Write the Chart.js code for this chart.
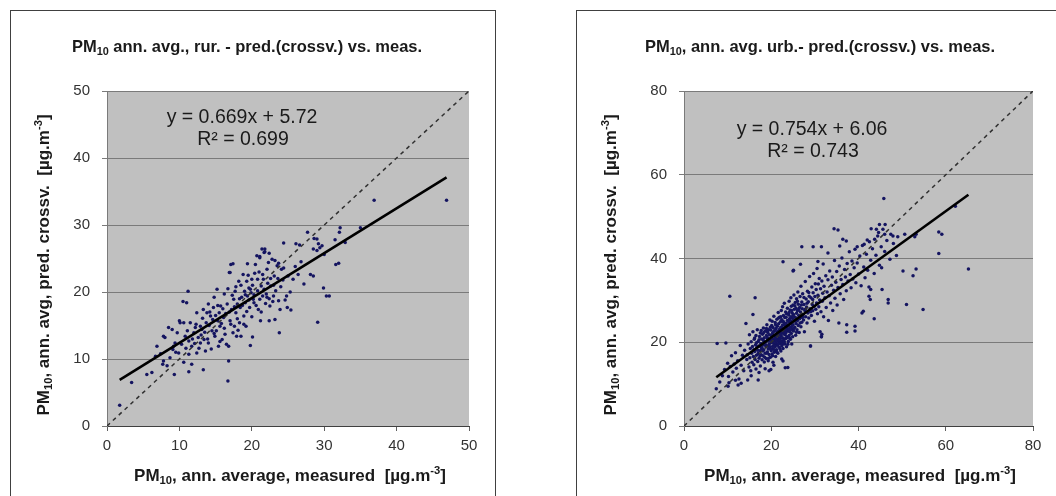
<!DOCTYPE html>
<html>
<head>
<meta charset="utf-8">
<script src="https://cdn.jsdelivr.net/npm/chart.js@4.4.1/dist/chart.umd.min.js"></script>
<style>
  body { margin: 0; background: #fff; overflow: hidden; width: 1056px; height: 496px; position: relative; }
  .panel { position: absolute; border: 1px solid #404040; box-sizing: border-box; }
  canvas { position: absolute; }
</style>
</head>
<body>
<div class="panel" style="left:10px;top:10px;width:486px;height:520px"></div>
<div class="panel" style="left:576px;top:10px;width:520px;height:520px"></div>
<canvas id="rural" width="483" height="485" style="left:11px;top:11px"></canvas>
<canvas id="urban" width="479" height="485" style="left:577px;top:11px"></canvas>
<script>
// rural stations: [measured, predicted (crossv.)]
const ruralPoints = [
  [1.75,3.1],[3.4,6.5],[5.5,7.7],[6.2,8.0],[6.7,10.4],[6.9,11.9],[7.4,10.8],[7.7,9.2],[7.8,9.7],[7.8,13.4],
  [8.0,13.2],[8.3,9.0],[8.5,14.7],[8.7,10.2],[9.0,14.4],[9.2,11.9],[9.1,11.4],[9.3,7.7],[9.4,12.4],[9.7,13.9],
  [9.9,10.9],[10.0,15.7],[10.1,15.4],[10.5,18.6],[10.6,15.4],[10.6,9.5],[10.8,13.4],[11.0,18.4],[11.2,20.1],[11.3,12.7],
  [11.3,10.7],[11.3,8.1],[11.5,15.4],[11.7,11.9],[11.7,9.2],[12.0,13.9],[12.2,14.7],[12.4,16.9],[12.4,10.9],[12.6,13.2],
  [12.9,14.9],[12.9,12.4],[13.1,14.4],[13.3,8.4],[13.3,17.4],[13.4,12.9],[13.7,15.4],[13.8,16.9],[14.0,18.2],[14.0,12.4],
  [14.3,16.4],[14.5,14.2],[14.7,17.7],[14.8,19.2],[14.9,13.4],[15.2,20.4],[15.3,15.7],[15.4,11.9],[15.5,16.9],[15.6,14.9],
  [15.7,17.9],[15.9,12.9],[16.1,16.2],[16.2,19.7],[16.3,13.7],[16.6,18.2],[16.7,6.7],[16.8,9.7],[16.8,11.9],[16.9,22.9],
  [17.0,15.7],[17.1,24.1],[17.2,17.4],[17.5,18.9],[17.6,14.9],[17.7,20.1],[17.8,16.9],[17.9,13.4],[18.0,18.2],[18.2,21.6],
  [18.3,15.4],[18.4,17.7],[18.5,13.4],[18.6,19.2],[18.8,22.6],[18.9,16.4],[19.0,20.1],[19.1,18.4],[19.2,14.9],[19.3,21.6],
  [19.4,19.4],[19.6,20.6],[19.7,17.7],[19.8,12.0],[19.9,19.9],[20.0,21.9],[20.1,13.3],[20.2,18.9],[20.3,18.4],[20.5,24.1],
  [20.7,25.4],[20.8,21.9],[20.9,17.4],[21.1,25.1],[21.2,15.7],[21.3,20.9],[21.4,26.4],[21.5,19.4],[21.6,21.9],[21.8,26.0],
  [22.0,19.7],[22.1,19.2],[22.3,24.4],[22.4,15.7],[22.5,17.9],[22.6,20.9],[22.8,24.9],[23.0,19.4],[23.1,22.4],[23.2,15.9],
  [23.5,23.9],[23.7,18.7],[23.8,13.9],[23.9,17.4],[24.1,23.4],[24.4,23.6],[24.8,19.4],[24.9,17.7],[25.4,17.3],[25.7,21.9],
  [26.4,22.6],[28.1,22.6],[28.5,22.4],[28.5,26.4],[29.1,15.5],[29.4,26.6],[29.9,20.6],[30.3,19.4],[31.6,24.1],
  [46.9,33.7],[36.9,33.7],[35.0,29.6],[32.2,29.6],[32.1,28.9],[31.5,27.8],[32.9,27.4],[27.7,28.9],[28.6,28.0],[29.2,27.2],
  [24.4,27.3],[26.1,27.2],[21.8,26.4],[21.7,25.9],[22.4,25.8],[21.1,25.3],[17.4,24.2],[19.4,24.2],[17.0,22.9],[23.2,24.7],
  [23.7,24.3],[29.0,27.9],[29.7,26.9],[29.0,26.2],[30.0,25.6],[32.0,24.3],[30.7,19.4],[26.6,27.0],
  [9.5,11.0],[10.3,12.2],[10.9,11.6],[11.1,14.2],[11.8,13.0],[12.1,12.3],[12.3,15.2],[12.7,11.6],[13.0,13.6],[13.2,16.1],
  [13.5,14.0],[13.6,11.2],[13.9,13.0],[14.1,15.0],[14.2,17.0],[14.4,11.5],[14.6,15.9],[14.8,13.8],[15.0,16.5],[15.1,14.2],
  [15.3,18.0],[15.6,12.6],[15.8,15.3],[16.0,17.5],[16.2,14.6],[16.4,16.8],[16.5,12.2],[16.7,20.5],[16.9,17.0],[17.1,15.2],
  [17.3,19.5],[17.4,13.9],[17.6,17.8],[17.8,20.8],[18.0,16.0],[18.1,14.3],[18.3,19.0],[18.5,21.0],[18.7,18.0],[18.9,15.2],
  [19.1,19.6],[19.3,17.1],[19.5,22.5],[19.6,18.8],[19.8,20.4],[20.0,16.3],[20.1,21.0],[20.3,19.6],[20.4,22.8],[20.6,18.0],
  [20.8,20.2],[21.0,23.0],[21.1,18.9],[21.3,17.0],[21.5,22.6],[21.7,20.4],[21.9,18.3],[22.1,23.4],[22.2,21.3],[22.4,19.0],
  [22.6,22.0],[22.9,18.6],[23.0,21.0],[23.3,20.2],[23.6,22.0],[24.0,20.8],[24.3,21.8],[24.6,18.8],[25.0,22.4],[25.3,20.0],
  [26.0,23.8],[26.8,24.5],[27.2,21.2]
];

// urban stations: [measured, predicted (crossv.)]
const urbanPoints = [
  [65.2,37.5],[58.4,41.2],[53.2,37.5],[52.5,35.9],[54.8,27.8],[51.0,29.0],[50.2,37.0],[48.7,40.7],[46.8,29.4],[46.8,30.2],
  [45.4,32.6],[45.3,37.8],[43.6,25.6],[41.1,27.4],[40.8,27.0],[42.7,30.2],[42.4,31.0],[42.4,33.2],[42.8,32.6],[39.2,23.8],
  [39.2,22.7],[37.3,22.4],[37.3,24.2],[31.6,21.9],[31.5,21.3],[29.0,19.1],[23.2,13.9],[22.7,15.5],[17.0,11.0],[19.9,13.5],
  [10.5,31.0],[16.3,30.6],[15.8,26.6],[7.4,8.9],[7.6,19.7],[10.1,9.5],[10.3,10.3],[25.0,37.0],[25.1,37.2],[22.7,39.2],
  [26.7,38.6],[30.7,39.3],[33.0,41.3],
  [45.8,54.3],[62.2,52.5],[58.4,46.3],[59.1,45.8],[53.2,45.8],[52.9,45.2],[50.6,45.8],[49.0,45.2],[47.9,45.4],[47.4,45.8],
  [46.0,45.8],[44.6,46.2],[44.1,47.0],[44.8,48.1],[46.1,48.1],[42.9,47.1],[43.7,44.6],[42.0,44.4],[41.3,43.4],[39.7,42.8],
  [36.4,44.6],[37.2,44.2],[35.7,43.0],[34.4,47.1],[35.3,46.8],[31.5,42.8],[29.6,42.8],[27.0,42.8],
  [8.2,10.5],[8.8,12.0],[9.3,13.5],[9.6,19.8],[10.0,15.0],[10.2,11.8],[10.6,14.2],[10.9,16.8],[11.2,12.9],[11.5,14.8],
  [11.8,17.5],[12.0,13.8],[12.3,15.6],[12.6,11.2],[12.9,19.2],[13.1,14.5],[13.4,16.9],[13.7,13.2],[13.9,18.1],[14.2,24.5],
  [14.4,15.9],
  [14.5,17.0],[14.7,19.6],[14.9,14.1],[15.0,21.8],[15.1,16.3],[15.2,18.5],[15.3,13.2],[15.4,20.1],[15.5,17.4],[15.6,15.2],
  [15.7,19.0],[15.8,22.5],[15.9,16.6],[16.0,18.2],[16.0,14.6],[16.1,20.7],[16.2,17.8],[16.3,15.9],[16.4,19.4],[16.5,21.6],
  [16.5,13.6],[16.6,16.9],[16.7,18.8],[16.8,23.0],[16.9,15.4],[17.0,20.2],[17.0,17.3],[17.1,19.1],[17.2,16.2],[17.3,21.4],
  [17.4,18.0],[17.5,14.3],[17.5,22.2],[17.6,19.7],[17.7,17.0],[17.8,20.8],[17.9,15.8],[17.9,18.6],
  [18.0,21.9],[18.0,19.3],[18.1,16.8],[18.2,20.4],[18.2,23.4],[18.3,18.2],[18.4,15.3],[18.4,21.1],[18.5,19.8],[18.6,17.4],
  [18.6,22.7],[18.7,20.0],[18.8,18.9],[18.8,16.1],[18.9,21.6],[19.0,24.2],[19.0,19.1],[19.1,17.7],[19.1,20.9],[19.2,22.3],
  [19.3,18.4],[19.3,15.6],[19.4,20.3],[19.4,23.0],[19.5,19.5],[19.5,17.1],[19.6,21.8],[19.7,25.3],[19.7,18.7],[19.8,20.6],
  [19.8,16.4],[19.9,22.9],[20.0,19.9],[20.0,18.0],[20.1,21.3],[20.1,24.0],[20.2,17.2],[20.2,20.1],[20.3,22.2],[20.3,19.0],
  [20.4,15.2],[20.4,23.5],[20.5,20.8],[20.5,18.4],[20.6,26.2],[20.6,21.7],[20.7,19.5],[20.7,17.6],[20.8,22.8],[20.8,20.4],
  [20.9,24.7],[20.9,18.9],[21.0,21.2],[21.0,16.6],[21.1,23.3],[21.1,19.9],[21.2,22.0],[21.2,18.2],[21.3,25.5],[21.3,20.7],
  [21.4,23.8],[21.4,19.3],[21.5,21.6],[21.5,17.4],[21.6,27.1],[21.6,22.6],[21.7,20.2],[21.7,24.4],[21.8,18.8],[21.8,21.1],
  [21.9,23.1],[21.9,26.0],
  [22.0,19.7],[22.0,22.5],[22.1,24.9],[22.1,20.9],[22.2,17.9],[22.2,23.6],[22.3,21.5],[22.3,27.6],[22.4,19.1],[22.4,25.4],
  [22.5,22.2],[22.5,20.3],[22.6,24.1],[22.6,28.5],[22.7,21.0],[22.7,18.5],[22.8,23.0],[22.8,26.4],[22.9,20.6],[22.9,24.8],
  [23.0,22.6],[23.0,29.3],[23.1,19.6],[23.1,25.9],[23.2,21.8],[23.2,23.9],[23.3,27.2],[23.3,20.9],[23.4,24.5],[23.4,22.3],
  [23.5,18.9],[23.5,26.8],[23.6,23.4],[23.6,21.3],[23.7,28.1],[23.7,25.2],[23.8,22.8],[23.8,14.0],[23.9,24.0],[23.9,20.2],
  [24.0,26.5],[24.0,23.1],[24.1,29.8],[24.1,21.6],[24.2,25.6],[24.2,22.5],[24.3,27.7],[24.3,24.6],[24.4,20.7],[24.4,23.6],
  [24.5,26.1],[24.5,30.6],[24.6,22.1],[24.6,28.6],[24.7,24.9],[24.7,19.6],[24.8,27.0],[24.8,23.2],[24.9,25.7],[24.9,21.3],
  [25.0,28.9],[25.0,24.2],[25.1,26.6],[25.1,22.7],[25.2,31.3],[25.3,25.1],[25.3,27.9],[25.4,23.6],[25.5,29.5],[25.5,26.0],
  [25.6,21.7],[25.7,24.5],[25.7,28.1],[25.8,26.9],[25.8,30.4],[25.9,23.0],[26.0,27.5],[26.0,25.2],[26.1,32.0],[26.2,24.0],
  [26.2,29.1],[26.3,26.4],[26.4,22.3],[26.5,28.3],[26.5,25.6],[26.6,30.9],[26.7,27.2],[26.8,23.7],[26.8,33.4],[26.9,26.0],
  [27.0,29.6],[27.0,24.8],[27.1,28.0],[27.2,31.6],[27.3,26.6],[27.4,25.3],[27.5,29.0],[27.6,22.5],[27.7,27.6],[27.8,34.5],
  [27.9,26.1],[28.0,30.3],
  [28.1,28.4],[28.2,24.6],[28.3,32.2],[28.4,27.0],[28.5,29.7],[28.6,25.8],[28.7,31.0],[28.8,35.7],[28.9,28.0],[29.0,19.1],
  [29.1,30.6],[29.2,26.4],[29.3,33.2],[29.4,29.0],[29.5,27.5],[29.6,31.8],[29.7,36.4],[29.8,28.6],[29.9,25.0],[30.0,30.9],
  [30.1,34.0],[30.2,27.9],[30.3,32.6],[30.4,29.4],[30.5,37.6],[30.6,26.8],[30.7,31.2],[30.8,33.9],[30.9,28.5],[31.0,35.2],
  [31.1,30.1],[31.2,22.5],[31.3,32.8],[31.4,27.3],[31.5,21.3],[31.6,34.6],[31.7,29.8],[31.8,31.7],[31.9,38.7],[32.0,26.1],
  [32.1,33.4],[32.3,30.6],[32.5,35.9],[32.6,28.3],[32.8,32.0],[33.0,34.9],[33.1,25.2],[33.3,31.1],[33.4,37.0],[33.6,29.4],
  [33.8,33.6],[34.0,35.6],[34.1,27.6],[34.3,32.4],[34.5,39.5],[34.6,30.5],[34.8,34.3],[35.0,36.9],[35.1,28.9],[35.3,33.1],
  [35.5,24.6],[35.6,38.2],[35.8,31.6],[36.0,35.0],
  [36.2,40.1],[36.4,33.8],[36.6,30.2],[36.8,37.4],[37.0,35.6],[37.2,32.3],[37.4,38.8],[37.6,34.6],[37.9,41.6],[38.1,36.2],
  [38.3,33.0],[38.5,39.4],[38.7,35.1],[39.0,37.8],[39.2,42.2],[39.4,34.2],[39.7,38.9],[40.0,36.3],[40.3,40.6],[40.6,33.5],
  [40.9,43.1],[41.2,38.0],[41.5,35.4],[41.8,41.0],[42.1,37.2],[42.5,44.0],[42.8,39.6],[43.2,42.3],[43.6,36.4],[44.0,40.8],
  [44.4,45.4],[44.8,38.4],[45.2,42.8],[45.6,47.0],[46.0,41.7],[46.5,44.3],[47.2,39.8],[48.0,43.6],
  [17.2,12.8],[18.6,13.7],[20.6,14.5],[22.4,16.0],[19.5,13.2],[14.6,11.0],[13.1,10.2],[11.8,10.9],[12.4,9.8],[15.4,12.0],
  [16.2,21.0],[16.6,19.9],[16.9,18.1],[17.2,20.6],[17.4,16.7],[17.7,22.8],[17.8,18.4],[18.1,17.9],[18.3,22.3],[18.5,16.4],
  [18.7,19.3],[18.9,23.3],[19.0,17.4],[19.2,21.1],[19.4,16.2],[19.6,19.0],[19.8,23.6],[19.9,18.3],[20.0,21.7],[20.2,25.0],
  [20.3,16.8],[20.5,22.5],[20.6,19.2],[20.8,17.9],[20.9,21.4],[21.0,24.2],[21.2,20.5],[21.3,17.7],[21.4,22.4],[21.6,19.6],
  [21.7,25.8],[21.8,22.0],[22.0,18.4],[22.1,21.8],[22.2,26.1],[22.3,20.0],[22.5,23.5],[22.6,19.5],[22.7,25.0],[22.9,22.0],
  [23.0,20.1],[23.1,24.4],[23.3,22.9],[23.4,26.0],[23.5,21.0],[23.7,23.8],[23.8,19.5],[24.0,24.9],[24.1,27.1],[24.2,21.0],
  [24.4,25.1],[24.5,22.9],[24.7,27.6],[24.8,24.0],[25.0,26.3],[25.2,23.3],[25.4,28.7],[25.6,25.4],[25.8,22.4],[26.0,29.8],
  [26.3,27.8],[26.6,24.6],[26.9,28.9],[27.2,26.0],[27.5,30.7],[27.8,27.9],[28.2,29.3],[28.6,31.9],[29.0,27.3],[29.5,30.2],
  [19.1,22.6],[19.6,20.6],[20.4,20.0],[21.1,21.8],[21.9,20.6],[22.4,22.9],[23.2,22.4],[20.9,23.0],[18.4,19.5],[17.6,18.9]
];

// linear trend lines (Excel) and their x extent
const ruralTrend = { slope: 0.669, intercept: 5.72, xFrom: 1.75, xTo: 46.9 };
const urbanTrend = { slope: 0.754, intercept: 6.06, xFrom: 7.4, xTo: 65.2 };
const ruralAxis = { max: 50, step: 10 };
const urbanAxis = { max: 80, step: 20 };

const FONT = '"Liberation Sans", Arial, sans-serif';
const PM = ['PM', 'sub', '10'];

function richParts(list) {
    // list: strings, with 'sub' / 'sup' marker before a small piece
    const out = [];
    for (let i = 0; i < list.length; i++) {
        if (list[i] === 'sub' || list[i] === 'sup') { out.push({ t: list[i + 1], k: list[i] }); i++; }
        else out.push({ t: list[i], k: '' });
    }
    return out;
}

function drawRich(ctx, list, x, y, size, bold, rotate) {
    const parts = richParts(list);
    const font = s => `${bold ? 'bold ' : ''}${s}px ${FONT}`;
    let w = 0;
    parts.forEach(p => { ctx.font = font(p.k ? size * 0.66 : size); p.w = ctx.measureText(p.t).width; w += p.w; });
    ctx.save();
    ctx.translate(x, y);
    if (rotate) ctx.rotate(-Math.PI / 2);
    ctx.textBaseline = 'middle';
    ctx.textAlign = 'left';
    ctx.fillStyle = '#1a1a1a';
    let cx = -w / 2;
    parts.forEach(p => {
        ctx.font = font(p.k ? size * 0.66 : size);
        const dy = p.k === 'sub' ? size * 0.28 : p.k === 'sup' ? -size * 0.32 : 0;
        ctx.fillText(p.t, cx, dy);
        cx += p.w;
    });
    ctx.restore();
}

function makeChart(id, points, trend, axis, texts, pad) {
    const trendLine = [
        { x: trend.xFrom, y: trend.slope * trend.xFrom + trend.intercept },
        { x: trend.xTo, y: trend.slope * trend.xTo + trend.intercept }
    ];
    const plotBg = {
        id: 'plotBg',
        beforeDraw(chart) {
            const a = chart.chartArea, c = chart.ctx;
            c.save(); c.fillStyle = '#c0c0c0';
            c.fillRect(a.left, a.top, a.right - a.left, a.bottom - a.top);
            c.restore();
        }
    };
    const labels = {
        id: 'labels',
        afterDraw(chart) {
            const c = chart.ctx;
            texts.forEach(t => drawRich(c, t.parts, t.x, t.y, t.size, t.bold, t.rotate));
        }
    };
    return new Chart(document.getElementById(id), {
        type: 'scatter',
        data: {
            datasets: [
                { type: 'line', data: trendLine, borderColor: '#000', borderWidth: 2.6, pointRadius: 0, showLine: true },
                { type: 'line', data: [{ x: 0, y: 0 }, { x: axis.max, y: axis.max }], borderColor: '#303030',
                  borderWidth: 1.5, borderDash: [4, 4], pointRadius: 0, showLine: true },
                { data: points.map(p => ({ x: p[0], y: p[1] })), backgroundColor: '#141460',
                  borderWidth: 0, pointRadius: 1.75 }
            ]
        },
        options: {
            responsive: false,
            animation: false,
            devicePixelRatio: 1,
            layout: { padding: pad },
            plugins: { legend: { display: false }, tooltip: { enabled: false } },
            scales: {
                x: {
                    min: 0, max: axis.max,
                    ticks: { stepSize: axis.step, color: '#333', padding: 6, font: { size: 15, family: FONT } },
                    grid: { drawOnChartArea: false, drawTicks: true, tickLength: 5, color: '#606060' },
                    border: { display: true, color: '#404040', width: 1 },
                    afterFit: s => { s.height = 25; }
                },
                y: {
                    min: 0, max: axis.max,
                    ticks: { stepSize: axis.step, color: '#333', padding: 12, font: { size: 15, family: FONT } },
                    grid: { color: '#7a7a7a', lineWidth: 1, tickLength: 5 },
                    border: { display: true, color: '#7a7a7a', width: 1 },
                    afterFit: s => { s.width = 40; }
                }
            }
        },
        plugins: [plotBg, labels]
    });
}

const yTitle = [...PM, ', ann. avg, pred. crossv.  [µg.m', 'sup', '-3', ']'];
const xTitle = [...PM, ', ann. average, measured  [µg.m', 'sup', '-3', ']'];

makeChart('rural', ruralPoints, ruralTrend, ruralAxis, [
    { parts: [...PM, ' ann. avg., rur. - pred.(crossv.) vs. meas.'], x: 236, y: 36, size: 16.5, bold: true },
    { parts: xTitle, x: 279, y: 465, size: 17, bold: true },
    { parts: yTitle, x: 33, y: 254, size: 17, bold: true, rotate: true },
    { parts: ['y = 0.669x + 5.72'], x: 231, y: 107, size: 19.5 },
    { parts: ['R² = 0.699'], x: 232, y: 129, size: 19.5 }
], { top: 80, left: 56, right: 25, bottom: 45 });

makeChart('urban', urbanPoints, urbanTrend, urbanAxis, [
    { parts: [...PM, ', ann. avg. urb.- pred.(crossv.) vs. meas.'], x: 243, y: 36, size: 16.5, bold: true },
    { parts: xTitle, x: 283, y: 465, size: 17, bold: true },
    { parts: yTitle, x: 34, y: 254, size: 17, bold: true, rotate: true },
    { parts: ['y = 0.754x + 6.06'], x: 235, y: 119, size: 19.5 },
    { parts: ['R² = 0.743'], x: 236, y: 141, size: 19.5 }
], { top: 80, left: 67, right: 23, bottom: 45 });
</script>
</body>
</html>
